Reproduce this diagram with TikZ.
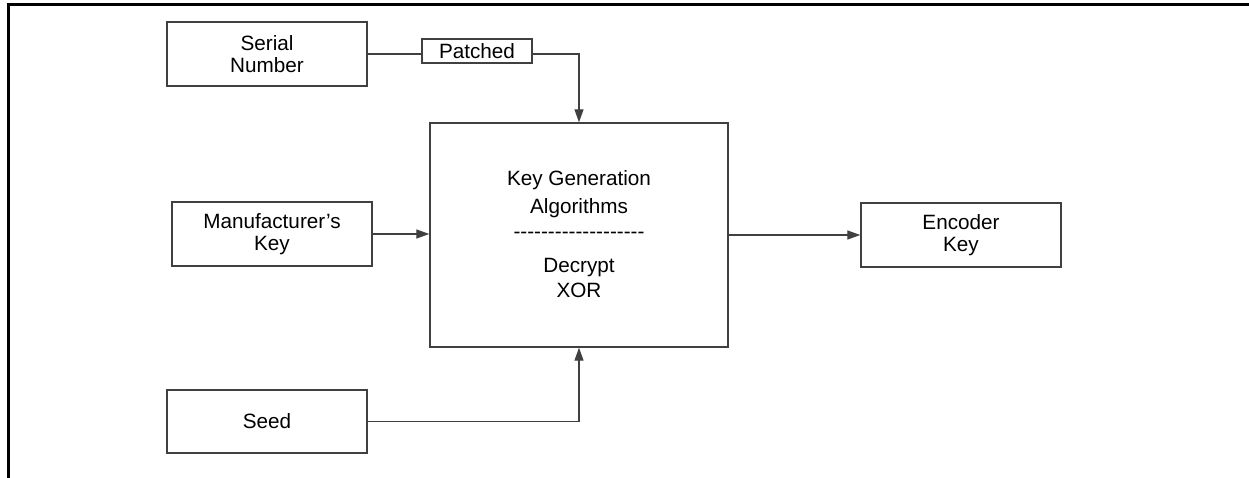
\documentclass[tikz,border=0pt]{standalone}
\usepackage{fontspec}
\setmainfont{Liberation Sans}
\usetikzlibrary{arrows.meta}
\newcommand{\hyk}{-\kern0pt}
\begin{document}
\begin{tikzpicture}[x=1pt,y=-1pt,
  lbl/.style={font=\fontsize{20.7}{21.5}\selectfont},
  box/.style={lbl, draw=black!75, line width=1.4pt, minimum width=200pt, minimum height=64pt, inner sep=0pt, align=center},
  txt/.style={lbl, inner sep=0pt, anchor=base},
  conn/.style={draw=black!75, line width=1.3pt},
  arr/.style={conn, -{Triangle[length=13pt,width=9pt]}}]
\useasboundingbox (0,0) rectangle (1249,478);
\draw[line width=3pt] (8.5,478) -- (8.5,4.5) -- (1249,4.5);
\node[box] (serial) at (267,54) {Serial\\Number};
\node[box, minimum width=110pt, minimum height=24pt] (patched) at (477,51) {Patched};
\node[box, minimum width=298pt, minimum height=224pt] (main) at (579,235) {};
\node[box] (manu) at (272,234) {Manufacturer’s\\Key};
\node[box] (enc) at (961,235) {Encoder\\Key};
\node[box, minimum height=63pt] (seed) at (267,421.5) {Seed};
\node[txt] (t1) at (579,186) {Key Generation};
\node[txt] (t2) at (579,214) {Algorithms};
\node[txt] (t3) at (579,238.5) {\hyk\hyk\hyk\hyk\hyk\hyk\hyk\hyk\hyk\hyk\hyk\hyk\hyk\hyk\hyk\hyk\hyk\hyk-};
\node[txt] (t4) at (579,272) {Decrypt};
\node[txt] (t5) at (579,297) {XOR};
\draw[conn] (serial.east) -- (serial.east -| patched.west);
\draw[arr] (patched.east |- serial.east) -| (main.north);
\draw[arr] (manu.east) -- (manu.east -| main.west);
\draw[arr] (main.east |- enc.west) -- (enc.west);
\draw[arr] (seed.east) -| (main.south);
\end{tikzpicture}
\end{document}
